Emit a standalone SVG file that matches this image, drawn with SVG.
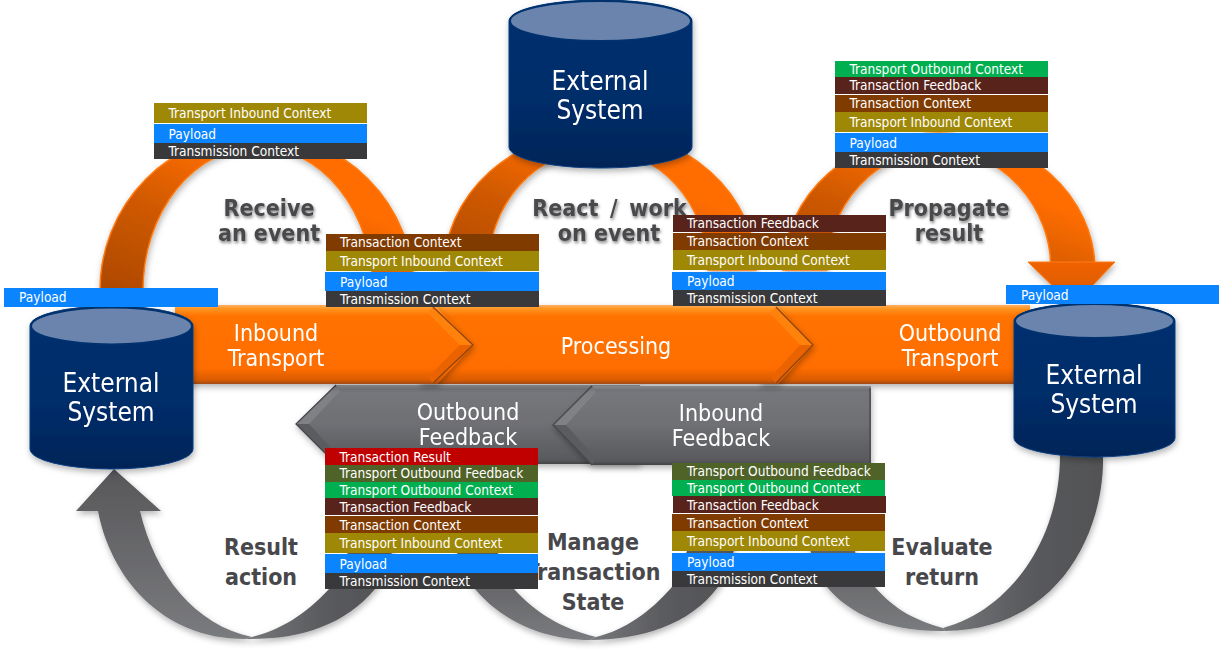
<svg xmlns="http://www.w3.org/2000/svg" width="1220" height="654" viewBox="0 0 1220 654">
<style>
text{font-family:"DejaVu Sans","Liberation Sans",sans-serif;font-stretch:condensed}
.r{font-size:13.6px;fill:#fff}
.big{font-size:23px;fill:#fff;text-anchor:middle}
.ext{font-size:26px;fill:#fff;text-anchor:middle}
.lab{font-size:23px;font-weight:bold;fill:#48484c;text-anchor:middle}
.tic{fill:#9f8806}.pay{fill:#0a84ff}.tc{fill:#39393b}.txc{fill:#7f3b00}.tf{fill:#58231a}.toc{fill:#00b050}.tof{fill:#4f6228}.tr{fill:#c00000}
.top{fill:#6a84ad;stroke:#00306e;stroke-width:2}
.body{fill:url(#cyl);stroke:#0b3f80;stroke-width:1}
.or{stroke:#ff7a10;stroke-width:1.5}
.fo1{fill:#ff8210}.fo2{fill:#ea6304}.fg1{fill:#808185}.fg2{fill:#5a5b5f}
.eo{fill:none;stroke:#8f4512;stroke-width:1.3}
.eg{fill:none;stroke:#46474a;stroke-width:1.3}
</style>
<defs>
<linearGradient id="cyl" x1="0" y1="0" x2="0" y2="1"><stop offset="0" stop-color="#003070"/><stop offset="0.6" stop-color="#002d69"/><stop offset="1" stop-color="#002458"/></linearGradient>
<linearGradient id="orA" x1="0" y1="1" x2="0.6" y2="0.3"><stop offset="0" stop-color="#ad4800"/><stop offset="0.55" stop-color="#cf5900"/><stop offset="1" stop-color="#ff6d00"/></linearGradient>
<linearGradient id="head" x1="0" y1="0" x2="0" y2="1"><stop offset="0" stop-color="#ef6200"/><stop offset="1" stop-color="#d65800"/></linearGradient>
<linearGradient id="bar" x1="0" y1="0" x2="0" y2="1"><stop offset="0" stop-color="#ffb060"/><stop offset="0.05" stop-color="#ff9420"/><stop offset="0.14" stop-color="#ff7300"/><stop offset="0.8" stop-color="#ff6d00"/><stop offset="0.95" stop-color="#d95c04"/><stop offset="1" stop-color="#a04a14"/></linearGradient>
<linearGradient id="gr" x1="0" y1="0" x2="0" y2="1"><stop offset="0" stop-color="#a6a7aa"/><stop offset="0.05" stop-color="#77787c"/><stop offset="0.5" stop-color="#6e6f73"/><stop offset="0.95" stop-color="#58595c"/><stop offset="1" stop-color="#444"/></linearGradient>
<linearGradient id="gL" x1="0" y1="0" x2="0" y2="1"><stop offset="0" stop-color="#57575a"/><stop offset="1" stop-color="#7a7b7e"/></linearGradient>
<linearGradient id="gR" x1="0" y1="0" x2="1" y2="0"><stop offset="0" stop-color="#77787b"/><stop offset="0.5" stop-color="#5a5b5e"/><stop offset="1" stop-color="#515255"/></linearGradient>
<filter id="sh" x="-20%" y="-20%" width="140%" height="140%"><feDropShadow dx="1" dy="3" stdDeviation="3" flood-color="#000" flood-opacity="0.3"/></filter>
<filter id="ts" x="-20%" y="-30%" width="140%" height="170%"><feDropShadow dx="1" dy="2" stdDeviation="1.6" flood-color="#000" flood-opacity="0.5"/></filter>
</defs>

<g id="connectors">
<path class="or" filter="url(#sh)" fill="url(#orA)" d="M100,290 A157,157 0 0 1 414,290 L373,290 A115,143 0 0 0 143,290 Z"/>
<path class="or" filter="url(#sh)" fill="url(#orA)" d="M444,270 A156,139 0 0 1 756,270 L708,270 A110,121 0 0 0 488,270 Z"/>
<g filter="url(#sh)">
<path class="or" fill="url(#orA)" d="M783,270 A156,137 0 0 1 1095,270 L1051,270 A112,120 0 0 0 827,270 Z"/>
<path fill="url(#head)" stroke="#ff7a10" stroke-width="1" d="M1028,262 L1115,262 L1073,306 Z"/>
</g>
<g filter="url(#sh)">
<path fill="url(#gL)" d="M114,469 L161,511 L140,511 C155,575 195,625 252,637 L245,639 C160,639 110,575 98,511 L76,511 Z"/>
<path fill="url(#gR)" d="M252,637 C280,630 305,615 329,589 L365,520 L400,520 C393,553 385,578 375,589 C345,625 300,640 245,639 Z"/>
<path fill="url(#gL)" d="M596,637 C560,628 535,612 514,589 C505,578 500,565 496,545 L455,545 C460,565 465,578 475,589 C505,625 550,640 590,640 Z"/>
<path fill="url(#gR)" d="M596,637 C625,630 650,612 672,587 L700,520 L738,520 C735,555 730,570 718,587 C690,625 640,640 590,640 Z"/>
<path fill="url(#gL)" d="M943,628 C915,620 895,610 875,587 C860,570 852,550 849,520 L805,520 C810,555 815,572 827,587 C850,615 890,632 945,631 Z"/>
<path fill="url(#gR)" d="M943,628 C1010,610 1060,540 1060,455 L1103,455 C1105,530 1060,630 945,631 Z"/>
</g>
</g>

<g id="outbound-feedback" filter="url(#sh)">
<path fill="url(#gr)" d="M296,424 L336,385 L640,385 L640,464 L336,464 Z"/>
<path class="fg1" d="M296,424 L309,424 L340,391 L336,385 Z"/>
<path class="fg2" d="M296,424 L309,424 L340,458 L336,464 Z"/>
<path class="eg" d="M336,385 L296,424 L336,464"/>
<text class="big" x="468" y="419.500">Outbound</text>
<text class="big" x="468" y="445">Feedback</text>
</g>
<g id="inbound-feedback" filter="url(#sh)">
<path fill="url(#gr)" d="M553,425 L592,386 L871,386 L871,465 L592,465 Z"/>
<path class="fg1" d="M553,425 L566,425 L596,392 L592,386 Z"/>
<path class="fg2" d="M553,425 L566,425 L596,459 L592,465 Z"/>
<path class="eg" d="M592,386 L553,425 L592,465"/>
<path class="eg" d="M870,388 L870,464"/>
<text class="big" x="721" y="420.500">Inbound</text>
<text class="big" x="721" y="446">Feedback</text>
</g>

<g id="outbound-transport" filter="url(#sh)">
<path fill="url(#bar)" d="M760,305 L1030,305 L1030,384 L760,384 Z"/>
<text class="big" x="950" y="340.500">Outbound</text>
<text class="big" x="950" y="366">Transport</text>
</g>
<g id="processing" filter="url(#sh)">
<path fill="url(#bar)" d="M420,305 L776,305 L813,345 L778,384 L420,384 Z"/>
<path class="fo1" d="M776,307 L813,345 L800,345 L770,313 Z"/>
<path class="fo2" d="M813,345 L800,345 L771,377 L776,383 Z"/>
<path class="eo" d="M776,307 L813,345 L776,383"/>
<text class="big" x="616" y="354">Processing</text>
</g>
<g id="inbound-transport" filter="url(#sh)">
<path fill="url(#bar)" d="M175,305 L435,305 L473,345 L437,384 L175,384 Z"/>
<path class="fo1" d="M433,307 L473,345 L460,345 L428,313 Z"/>
<path class="fo2" d="M473,345 L460,345 L428,377 L433,383 Z"/>
<path class="eo" d="M433,307 L473,345 L433,383"/>
<text class="big" x="276" y="340.500">Inbound</text>
<text class="big" x="276" y="366">Transport</text>
</g>

<g id="system-left" filter="url(#sh)">
<path class="body" d="M30,326 A81.5,20 0 0 1 193,326 L193,449 A81.5,20 0 0 1 30,449 Z"/>
<ellipse class="top" cx="111.500" cy="326" rx="80.500" ry="18.500"/>
<text class="ext" x="111" y="392">External</text>
<text class="ext" x="111" y="421">System</text>
</g>
<g id="system-top" filter="url(#sh)">
<path class="body" d="M509,21 A91.5,21 0 0 1 692,21 L692,147 A91.5,21 0 0 1 509,147 Z"/>
<ellipse class="top" cx="600.500" cy="21" rx="90.500" ry="20"/>
<text class="ext" x="600" y="90">External</text>
<text class="ext" x="600" y="119">System</text>
</g>
<g id="system-right" filter="url(#sh)">
<path class="body" d="M1014,321 A80.5,18 0 0 1 1175,321 L1175,438 A80.5,19 0 0 1 1014,438 Z"/>
<ellipse class="top" cx="1094.500" cy="321" rx="79.500" ry="17"/>
<text class="ext" x="1094" y="384">External</text>
<text class="ext" x="1094" y="413">System</text>
</g>

<g id="label-receive" filter="url(#ts)"><text class="lab" x="269" y="216">Receive</text><text class="lab" x="269" y="241">an event</text></g>
<g id="label-react" filter="url(#ts)"><text class="lab" x="609.500" y="216" style="word-spacing:4.500px">React / work</text><text class="lab" x="609" y="241">on event</text></g>
<g id="label-propagate" filter="url(#ts)"><text class="lab" x="949" y="216">Propagate</text><text class="lab" x="949" y="241">result</text></g>
<g id="label-result"><text class="lab" x="261" y="555">Result</text><text class="lab" x="261" y="585">action</text></g>
<g id="label-manage"><text class="lab" x="593" y="550">Manage</text><text class="lab" x="593" y="580">Transaction</text><text class="lab" x="593" y="610">State</text></g>
<g id="label-evaluate"><text class="lab" x="942" y="555">Evaluate</text><text class="lab" x="942" y="585">return</text></g>

<g id="stack-payload-left">
<rect class="pay" x="4" y="288" width="214" height="19"/>
<text class="r" x="19" y="302">Payload</text>
</g>
<g id="stack-payload-right">
<rect class="pay" x="1006" y="285" width="213" height="19"/>
<text class="r" x="1021" y="300">Payload</text>
</g>
<g id="stack-receive">
<rect class="tic" x="154" y="103" width="213" height="20"/><text class="r" x="168.500" y="118">Transport Inbound Context</text>
<rect class="pay" x="154" y="124" width="213" height="19"/><text class="r" x="168.500" y="139">Payload</text>
<rect class="tc" x="154" y="143" width="213" height="16"/><text class="r" x="168.500" y="156">Transmission Context</text>
</g>
<g id="stack-inbound">
<rect class="txc" x="326" y="234" width="213" height="17"/><text class="r" x="340" y="247">Transaction Context</text>
<rect class="tic" x="326" y="251" width="213" height="20"/><text class="r" x="340" y="266">Transport Inbound Context</text>
<rect class="pay" x="325" y="272" width="214" height="19"/><text class="r" x="340" y="287">Payload</text>
<rect class="tc" x="326" y="291" width="213" height="16"/><text class="r" x="340" y="304">Transmission Context</text>
</g>
<g id="stack-react">
<rect class="tf" x="673" y="215" width="213" height="17"/><text class="r" x="687" y="228">Transaction Feedback</text>
<rect class="txc" x="673" y="233" width="213" height="17"/><text class="r" x="687" y="246">Transaction Context</text>
<rect class="tic" x="673" y="250" width="213" height="20"/><text class="r" x="687" y="265">Transport Inbound Context</text>
<rect class="pay" x="672" y="272" width="214" height="18"/><text class="r" x="687" y="286">Payload</text>
<rect class="tc" x="673" y="290" width="213" height="16"/><text class="r" x="687" y="303">Transmission Context</text>
</g>
<g id="stack-propagate">
<rect class="toc" x="835" y="61" width="213" height="16"/><text class="r" x="849.500" y="74">Transport Outbound Context</text>
<rect class="tf" x="835" y="77" width="213" height="17"/><text class="r" x="849.500" y="90">Transaction Feedback</text>
<rect class="txc" x="835" y="95" width="213" height="17"/><text class="r" x="849.500" y="108">Transaction Context</text>
<rect class="tic" x="835" y="112" width="213" height="20"/><text class="r" x="849.500" y="127">Transport Inbound Context</text>
<rect class="pay" x="835" y="133" width="213" height="19"/><text class="r" x="849.500" y="148">Payload</text>
<rect class="tc" x="835" y="152" width="213" height="16"/><text class="r" x="849.500" y="165">Transmission Context</text>
</g>
<g id="stack-result">
<rect class="tr" x="325" y="448" width="213" height="17"/><text class="r" x="339.500" y="462">Transaction Result</text>
<rect class="tof" x="325" y="465" width="213" height="17"/><text class="r" x="339.500" y="478">Transport Outbound Feedback</text>
<rect class="toc" x="325" y="482" width="213" height="16"/><text class="r" x="339.500" y="495">Transport Outbound Context</text>
<rect class="tf" x="325" y="498" width="213" height="17"/><text class="r" x="339.500" y="512">Transaction Feedback</text>
<rect class="txc" x="325" y="516" width="213" height="17"/><text class="r" x="339.500" y="530">Transaction Context</text>
<rect class="tic" x="325" y="533" width="213" height="20"/><text class="r" x="339.500" y="548">Transport Inbound Context</text>
<rect class="pay" x="325" y="554" width="213" height="19"/><text class="r" x="339.500" y="569">Payload</text>
<rect class="tc" x="325" y="573" width="213" height="16"/><text class="r" x="339.500" y="586">Transmission Context</text>
</g>
<g id="stack-evaluate">
<rect class="tof" x="672" y="463" width="213" height="17"/><text class="r" x="687" y="476">Transport Outbound Feedback</text>
<rect class="toc" x="672" y="480" width="213" height="16"/><text class="r" x="687" y="493">Transport Outbound Context</text>
<rect class="tf" x="673" y="496" width="213" height="17"/><text class="r" x="687" y="510">Transaction Feedback</text>
<rect class="txc" x="672" y="514" width="213" height="17"/><text class="r" x="687" y="528">Transaction Context</text>
<rect class="tic" x="672" y="531" width="213" height="20"/><text class="r" x="687" y="546">Transport Inbound Context</text>
<rect class="pay" x="672" y="553" width="213" height="18"/><text class="r" x="687" y="567">Payload</text>
<rect class="tc" x="672" y="571" width="213" height="16"/><text class="r" x="687" y="584">Transmission Context</text>
</g>
</svg>
